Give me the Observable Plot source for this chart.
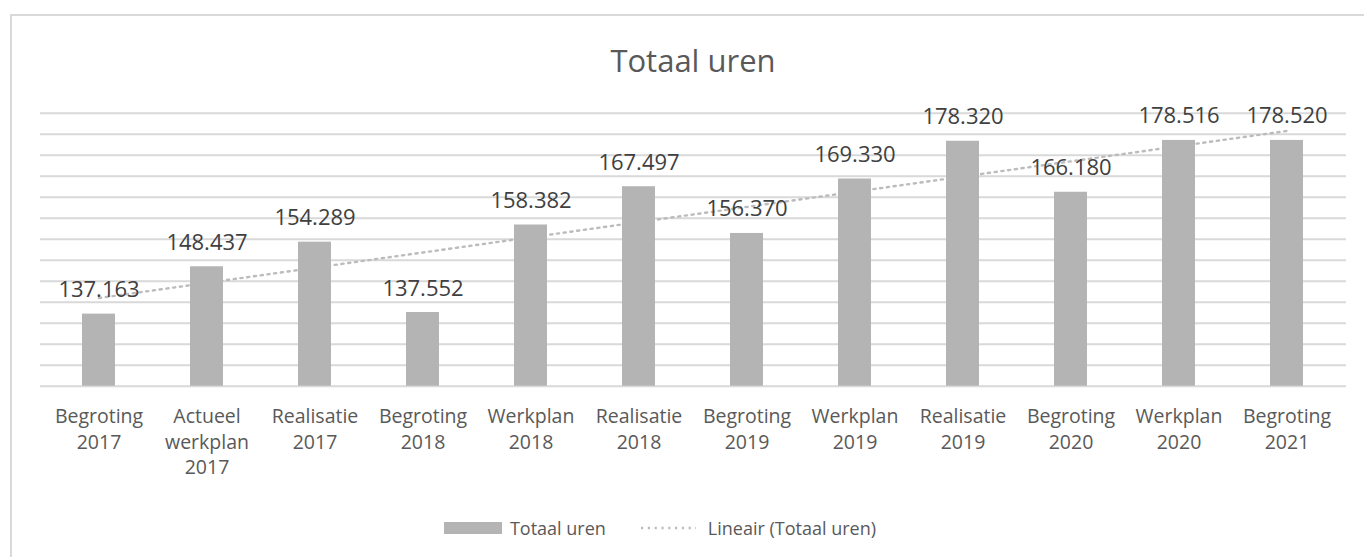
<!DOCTYPE html>
<html>
<head>
<meta charset="utf-8">
<script src="https://cdn.jsdelivr.net/npm/d3@7"></script>
<script src="https://cdn.jsdelivr.net/npm/@observablehq/plot@0.6"></script>
<style>
  html, body { margin: 0; padding: 0; background: #fff; width: 1364px; height: 557px; overflow: hidden; }
  body { font-family: "Open Sans", sans-serif; position: relative; }
  #frame { position: absolute; left: 10px; top: 14px; width: 1400px; height: 600px;
           border-left: 2px solid #d9d9d9; border-top: 2px solid #d9d9d9; }
  #title { position: absolute; left: 0; width: 1386px; top: 38px; text-align: center;
           font-size: 31px; color: #595959; line-height: 44px; }
  #chart { position: absolute; left: 0; top: 0; }
  #legend { position: absolute; left: 0; width: 1320px; top: 516px; height: 24px;
            display: flex; justify-content: center; align-items: center;
            font-size: 18px; color: #595959; }
  #legend .sw { width: 58px; height: 12px; background: #b4b4b4; margin-right: 8px; }
  #legend .ln { margin-left: 34px; margin-right: 12px; }
</style>
</head>
<body>
<div id="frame"></div>
<div id="chart"></div>
<div id="title">Totaal uren</div>
<div id="legend">
  <div class="sw"></div><span>Totaal uren</span>
  <svg class="ln" width="56" height="6"><line x1="1" y1="3" x2="56" y2="3" stroke="#bcbcbc" stroke-width="2.4" stroke-dasharray="2.2,4.6"/></svg>
  <span>Lineair (Totaal uren)</span>
</div>
<script>
// ---- data ----
const categories = [
  "Begroting 2017", "Actueel werkplan 2017", "Realisatie 2017", "Begroting 2018",
  "Werkplan 2018", "Realisatie 2018", "Begroting 2019", "Werkplan 2019",
  "Realisatie 2019", "Begroting 2020", "Werkplan 2020", "Begroting 2021"
];
const values = [137.163, 148.437, 154.289, 137.552, 158.382, 167.497, 156.370, 169.330, 178.320, 166.180, 178.516, 178.520];
const yMin = 120;
const yMax = 185;
const yStep = 5;
const gridTicks = d3.range(yMin, yMax + yStep / 2, yStep);

const data = categories.map((c, i) => ({cat: c, value: values[i]}));

// linear trendline (least squares over category index)
const n = values.length;
const xs = d3.range(n);
const mx = d3.mean(xs), my = d3.mean(values);
const slope = d3.sum(xs, (x, i) => (x - mx) * (values[i] - my)) / d3.sum(xs, x => (x - mx) ** 2);
const intercept = my - slope * mx;
const trend = categories.map((c, i) => ({cat: c, value: intercept + slope * i}));

const fmt = v => v.toFixed(3);
const wrap = {
  "Actueel werkplan 2017": "Actueel\nwerkplan\n2017"
};
const tickLabel = c => wrap[c] || c.replace(" ", "\n");

const chart = Plot.plot({
  width: 1364,
  height: 490,
  marginLeft: 40,
  marginRight: 18,
  marginTop: 112.7,
  marginBottom: 104.3,
  style: {background: "transparent", fontFamily: "Open Sans, sans-serif", color: "#595959", overflow: "visible"},
  x: {domain: categories, paddingInner: 0.69, paddingOuter: 0.345, align: 0.5, label: null},
  y: {domain: [yMin, yMax], axis: null},
  marks: [
    Plot.ruleY(gridTicks, {stroke: "#d9d9d9", strokeWidth: 2}),
    Plot.line(trend, {x: "cat", y: "value", stroke: "#bcbcbc", strokeWidth: 2.4, strokeDasharray: "2.2,4.6"}),
    Plot.barY(data, {x: "cat", y1: () => yMin, y2: "value", fill: "#b4b4b4"}),
    Plot.text(data, {x: "cat", y: "value", text: d => fmt(d.value), dy: -24, fontSize: 22, fill: "#404040"}),
    Plot.axisX({tickSize: 0, tickPadding: 19, fontSize: 19.5, lineHeight: 1.3, tickFormat: tickLabel, fill: "#595959", label: null})
  ]
});
document.getElementById("chart").appendChild(chart);
</script>
</body>
</html>
